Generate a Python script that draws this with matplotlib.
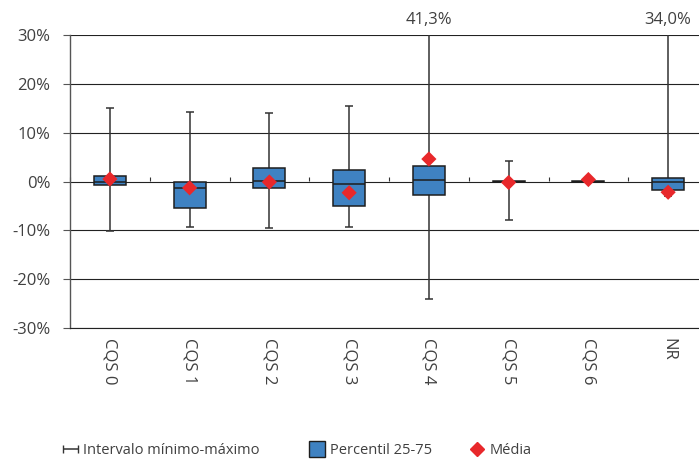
import numpy as np
import matplotlib.pyplot as plt
from matplotlib.lines import Line2D

plt.rcParams['font.family'] = ['Open Sans', 'DejaVu Sans']

cats = ['CQS 0', 'CQS 1', 'CQS 2', 'CQS 3', 'CQS 4', 'CQS 5', 'CQS 6', 'NR']
vmin = [-10.2, -9.3, -9.5, -9.3, -24.1, -7.8, -0.2, -3.0]
vmax = [15.0, 14.3, 14.0, 15.5, 41.3, 4.2, 0.3, 34.0]
p25 = [-0.7, -5.4, -1.4, -5.1, -2.8, -0.1, -0.05, -1.7]
p75 = [1.1, 0.0, 2.7, 2.3, 3.1, 0.2, 0.1, 0.65]
med = [0.0, -1.4, 0.2, -0.6, 0.25, 0.0, 0.0, -0.2]
mean = [0.5, -1.3, -0.1, -2.3, 4.6, -0.2, 0.4, -2.2]

txt = '#404040'
edge = '#1e1e1e'
x = np.arange(len(cats))

fig = plt.figure(figsize=(6.99, 4.63), dpi=100)
ax = fig.add_axes([70/699, 1-328/463, 638/699, 293/463])

# whiskers and caps
ax.vlines(x, vmin, vmax, color='#333333', lw=1.1, zorder=2)
ax.hlines(vmin, x-0.05, x+0.05, color='#333333', lw=1.1, zorder=2)
ax.hlines(vmax, x-0.05, x+0.05, color='#333333', lw=1.1, zorder=2)
# boxes
ax.bar(x, np.array(p75)-np.array(p25), bottom=p25, width=0.4,
       color='#3f82c2', edgecolor=edge, lw=1.1, zorder=3)
ax.hlines(med, x-0.2, x+0.2, color=edge, lw=1.1, zorder=4)
# means
ax.scatter(x, mean, marker='D', s=60, color='#e8282b', edgecolor='none', zorder=5)

for i, v in enumerate(vmax):
    if v > 30:
        ax.text(x[i], 31.5, f'{v:.1f}%'.replace('.', ','), ha='center', va='bottom',
                fontsize=12, color=txt, clip_on=False)

ax.set_xlim(-0.5, len(cats)-0.5)
ax.set_ylim(-30, 30)
ax.set_yticks(np.arange(-30, 31, 10))
ax.set_yticklabels([f'{v}%' for v in range(-30, 31, 10)], fontsize=12, color=txt)
ax.yaxis.grid(True, color='#222222', lw=0.8)
ax.set_axisbelow(True)
ax.tick_params(axis='y', length=5, color='#555555', pad=9)

ax.set_xticks(x)
ax.set_xticklabels(cats, rotation=-90, fontsize=12, color=txt, va='top')
ax.tick_params(axis='x', length=0, pad=7)

for s in ['top', 'right']:
    ax.spines[s].set_visible(False)
ax.spines['bottom'].set_color('#222222')
ax.spines['bottom'].set_linewidth(0.8)
ax.spines['left'].set_color('#555555')
ax.spines['left'].set_linewidth(1.0)

# small ticks on the zero line between categories
sec = ax.secondary_xaxis(0.5)
sec.set_xticks(np.arange(-0.5, len(cats), 1.0))
sec.set_xticklabels([])
sec.tick_params(length=3, color='#333333', width=0.8)
for s in sec.spines.values():
    s.set_visible(False)

eb = ax.errorbar([np.nan], [np.nan], xerr=[1], fmt='none', ecolor='#333333',
                 elinewidth=1.1, capsize=3, label='Intervalo mínimo-máximo')
box_h = Line2D([], [], marker='s', color='#3f82c2', markeredgecolor=edge, ls='none',
               markersize=11, label='Percentil 25-75')
mean_h = Line2D([], [], marker='D', color='#e8282b', ls='none', markersize=7,
                label='Média')

# legend items placed one by one along the bottom
for h, x0 in [(eb, 61), (box_h, 308), (mean_h, 468)]:
    leg = fig.legend(handles=[h], loc='center left', bbox_to_anchor=(x0/699, 12/463),
                     frameon=False, fontsize=10.5, labelcolor=txt, borderpad=0,
                     borderaxespad=0, handlelength=1.3, handletextpad=0.2)

plt.savefig('out.png', dpi=100)
